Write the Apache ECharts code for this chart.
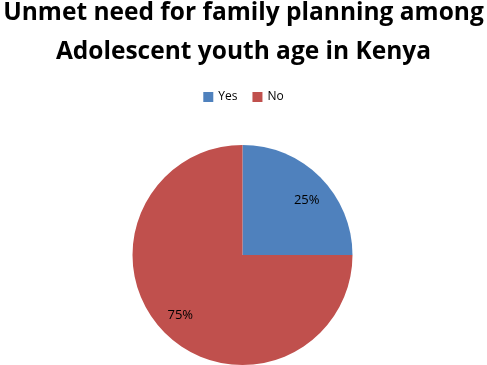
<!DOCTYPE html>
<html>
<head>
<meta charset="UTF-8">
<title>Unmet need for family planning</title>
<script type="text/javascript" src="https://cdn.jsdelivr.net/npm/echarts@6/dist/echarts.min.js"></script>
<style>
html, body { margin: 0; padding: 0; background: #fff; }
</style>
</head>
<body>
<div id="main" style="width: 487px; height: 365px;"></div>
<script type="text/javascript">
var titleLines = ['Unmet need for family planning among', 'Adolescent youth age in Kenya'];
var categories = ['Yes', 'No'];
var values = [25, 75];
var colors = ['#4F81BD', '#C0504D'];
// small nudges for the % labels (Excel puts them a bit off-centre)
var labelOffsets = [[2, 8], [0, -2]];

var pieData = categories.map(function (c, i) {
    return { name: c, value: values[i], itemStyle: { color: colors[i] } };
});
// same slices, transparent, only used to put the % labels further out
var labelData = categories.map(function (c, i) {
    return {
        name: c,
        value: values[i],
        itemStyle: { color: 'rgba(0,0,0,0)' },
        label: { offset: labelOffsets[i] }
    };
});

var titleStyle = {
    fontFamily: 'Open Sans',
    fontWeight: 'bold',
    fontSize: 24.5,
    lineHeight: 30,
    color: '#000'
};

var myChart = echarts.init(document.getElementById('main'));
var option = {
    backgroundColor: '#fff',
    title: [{
        text: titleLines[0],
        left: 'center',
        top: -2,
        padding: 0,
        textStyle: titleStyle
    }, {
        text: titleLines[1],
        left: 'center',
        top: 37,
        padding: 0,
        textStyle: titleStyle
    }],
    legend: {
        data: categories,
        top: 86,
        left: 'center',
        itemWidth: 10,
        itemHeight: 10,
        itemGap: 15,
        icon: 'rect',
        textStyle: { fontFamily: 'Open Sans', fontSize: 12, color: '#000' }
    },
    series: [{
        type: 'pie',
        center: [242.5, 255],
        radius: [0, 110],
        startAngle: 90,
        clockwise: true,
        label: { show: false },
        labelLine: { show: false },
        emphasis: { disabled: true },
        data: pieData
    }, {
        type: 'pie',
        center: [242.5, 255],
        radius: [0, 170],
        startAngle: 90,
        clockwise: true,
        silent: true,
        z: 3,
        label: {
            show: true,
            position: 'inside',
            formatter: '{c}%',
            fontFamily: 'Open Sans',
            fontSize: 13,
            color: '#000'
        },
        labelLine: { show: false },
        emphasis: { disabled: true },
        data: labelData
    }]
};
myChart.setOption(option);
</script>
</body>
</html>
